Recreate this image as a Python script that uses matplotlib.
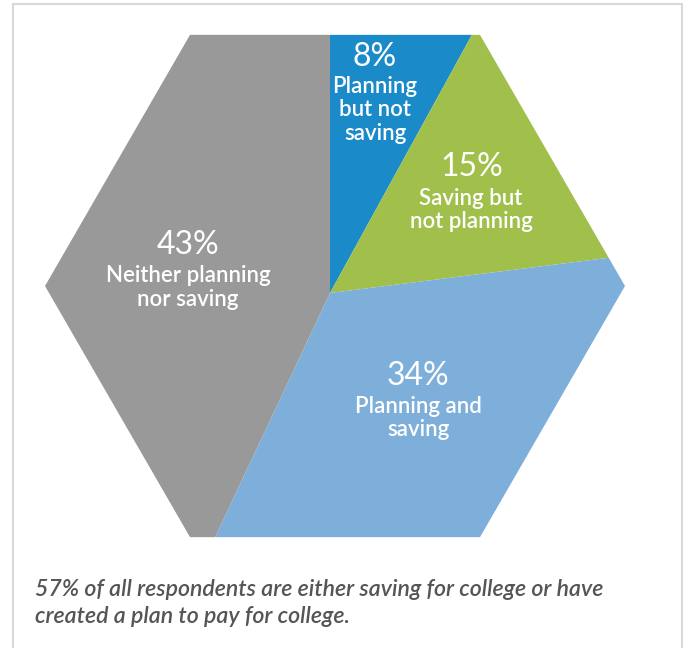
import matplotlib.pyplot as plt
import numpy as np
from matplotlib.patches import Polygon

# shares of respondents, clockwise from 12 o'clock
shares = [8, 15, 34, 43]
labels = [["Planning", "but not", "saving"], ["Saving but", "not planning"],
          ["Planning and", "saving"], ["Neither planning", "nor saving"]]
colors = ["#1a8ac9", "#a1bf4b", "#7eafdb", "#999999"]

# where each label sits (pixel units, y measured up from the bottom)
pct_pos = [(375, 591), (472, 481), (418, 272), (188, 403)]
lab_pos = [(375, 555), (471, 443), (418, 235), (188, 366)]
line_step = 23.5

caption = ["57% of all respondents are either saving for college or have",
           "created a plan to pay for college."]

W, H = 688, 648
fig = plt.figure(figsize=(W / 100, H / 100), dpi=100)
ax = fig.add_axes([0, 0, 1, 1])

wedges, _ = ax.pie(shares, colors=colors, startangle=90, counterclock=False,
                   center=(330, H - 293), radius=500,
                   wedgeprops=dict(linewidth=0))

# hexagon outline used to cut the pie
cx, cy, R = 335, H - 286, 290
ang = np.radians(np.arange(0, 360, 60))
hexagon = Polygon(np.column_stack([cx + R * np.cos(ang), cy + R * np.sin(ang)]),
                  closed=True, facecolor="none", edgecolor="none",
                  transform=ax.transData)
ax.add_patch(hexagon)
for w in wedges:
    w.set_clip_on(True)
    w.set_clip_path(hexagon)

for v, lines, (px, py), (lx, ly) in zip(shares, labels, pct_pos, lab_pos):
    ax.text(px, py, f"{v}%", ha="center", va="center", color="white",
            fontsize=23, family="Lato")
    for i, line in enumerate(lines):
        ax.text(lx, ly - i * line_step, line, ha="center", va="baseline",
                color="white", fontsize=16, family="Lato", weight="semibold")

# caption under the chart
for i, line in enumerate(caption):
    ax.text(35, H - 596 - i * 27, line, ha="left", va="baseline",
            color="#555555", fontsize=16.7, family="Lato", style="italic",
            weight="semibold")

# light frame round the panel
ax.plot([13, 13, 682, 682], [0, H - 4, H - 4, 0], color="#d9d9d9", lw=1.5,
        solid_joinstyle="miter")

ax.set_xlim(0, W)
ax.set_ylim(0, H)
ax.set_aspect("auto")
ax.axis("off")

fig.savefig("out.png", dpi=100)
